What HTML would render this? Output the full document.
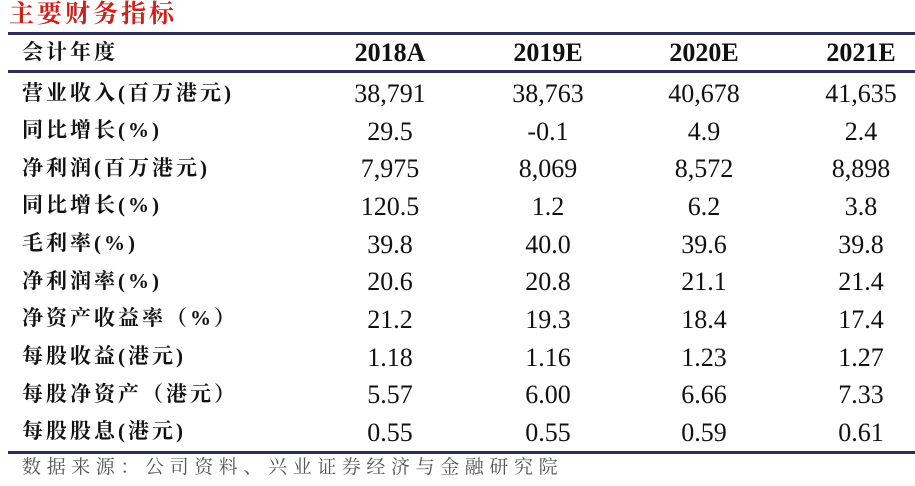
<!DOCTYPE html>
<html><head><meta charset="utf-8"><style>
body{margin:0;width:915px;height:486px;background:#fff;position:relative;overflow:hidden;font-family:"Liberation Serif","Times New Roman","DejaVu Serif","Noto Serif CJK SC",serif;}
.t{position:absolute;white-space:nowrap;line-height:1;}
.title{left:9px;top:2px;font-size:25px;letter-spacing:3px;font-weight:bold;color:#d0201a;font-family:"Liberation Serif","Noto Serif CJK SC",serif;}
.line{position:absolute;left:8px;width:907px;height:3px;background:#2e2e5e;}
.lab{left:22px;font-size:21px;letter-spacing:3px;font-weight:bold;color:#111;font-family:"Liberation Serif","Noto Serif CJK SC",serif;}
.num{font-size:26px;color:#111;transform:translateX(-50%);font-family:"Liberation Serif","Times New Roman",serif;}
.hd{font-weight:bold;}
.src{left:22px;top:458px;font-size:19px;letter-spacing:5.6px;color:#555;font-family:"Liberation Serif","Noto Serif CJK SC",serif;}
</style></head><body>
<div class="t title">主要财务指标</div>
<div class="line" style="top:32px"></div>
<div class="line" style="top:70px"></div>
<div class="line" style="top:451px"></div>
<div id="tbl"></div>
<div class="t src">数据来源：公司资料、兴业证券经济与金融研究院</div>
<script>
const years=["2018A","2019E","2020E","2021E"];
const labels=["营业收入(百万港元)","同比增长(%)","净利润(百万港元)","同比增长(%)","毛利率(%)","净利润率(%)","净资产收益率（%）","每股收益(港元)","每股净资产（港元）","每股股息(港元)"];
const v2018=["38,791","29.5","7,975","120.5","39.8","20.6","21.2","1.18","5.57","0.55"];
const v2019=["38,763","-0.1","8,069","1.2","40.0","20.8","19.3","1.16","6.00","0.55"];
const v2020=["40,678","4.9","8,572","6.2","39.6","21.1","18.4","1.23","6.66","0.59"];
const v2021=["41,635","2.4","8,898","3.8","39.8","21.4","17.4","1.27","7.33","0.61"];
const cols=[v2018,v2019,v2020,v2021];
const colX=[390,548,704,861];
const tbl=document.getElementById('tbl');
function mk(cls,text,x,cy,fs){const d=document.createElement('div');d.className='t '+cls;d.textContent=text;d.style.top=(cy-fs*0.5)+'px';if(x!==null)d.style.left=x+'px';tbl.appendChild(d);return d;}
let h=mk('lab','会计年度',null,52,21);


years.forEach((y,i)=>{const d=mk('num hd',y,colX[i],53,26);

});
labels.forEach((l,r)=>{const cy=93+r*37.65;
const d=mk('lab',l,null,cy,21);


cols.forEach((c,i)=>{const n=mk('num',c[r],colX[i],cy+1,26);

});});
</script>
</body></html>
